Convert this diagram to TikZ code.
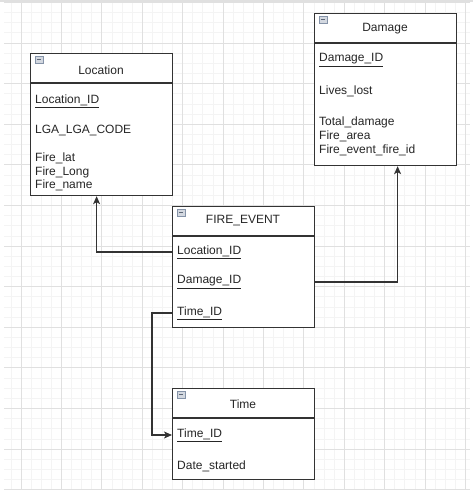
\documentclass[tikz,border=0pt]{standalone}
\usepackage{fontspec}
\setmainfont{Liberation Sans}
\usepackage{tikz}
\usetikzlibrary{arrows.meta}
\definecolor{gridminor}{HTML}{F4F4F4}
\definecolor{gridmajor}{HTML}{E0E0E0}
\definecolor{boxline}{HTML}{333333}
\definecolor{iconfill}{HTML}{D3D8E0}
\definecolor{iconline}{HTML}{8593A8}

\begin{document}
\begin{tikzpicture}[x=1pt,y=-1pt,
  table/.style={draw=boxline, line width=1.2pt, fill=white, anchor=north west,
    inner sep=0pt, minimum width=142pt},
  title/.style={font=\fontsize{12}{14}\selectfont, text=black!85},
  field/.style={anchor=west, inner xsep=5pt, inner ysep=1pt,
    font=\fontsize{12}{14}\selectfont, text=black!85},
  link/.style={draw=boxline, line width=1.1pt,
    -{Stealth[length=8pt,width=7pt,inset=2pt]}},
  icon/.style={draw=iconline, fill=iconfill, line width=0.6pt}]
\useasboundingbox (0,0) rectangle (473,494);
\fill[white] (0,0) rectangle (473,494);
% grid
\fill[gridmajor] (0,0) rectangle (473,2.5);
\foreach \i in {-1,...,44}
  \draw[gridminor, line width=0.7pt] ({21+\i*10.1},3) -- ({21+\i*10.1},490);
\foreach \j in {-3,...,44}
  \draw[gridminor, line width=0.7pt] (4,{43+\j*10.15}) -- (470,{43+\j*10.15});
\foreach \i in {0,...,11}
  \draw[gridmajor, line width=0.8pt] ({21+\i*40.4},3) -- ({21+\i*40.4},490);
\foreach \j in {-1,...,11}
  \draw[gridmajor, line width=0.8pt] (4,{43+\j*40.6}) -- (470,{43+\j*40.6});

% tables
\node[table, minimum height=142pt] (loc) at (30,53) {};
\node[table, minimum height=152pt] (dmg) at (314,13) {};
\node[table, minimum height=121pt] (fe) at (172,206) {};
\node[table, minimum height=91pt] (tm) at (172,388) {};

\foreach \b in {loc,dmg,fe,tm} {
  \draw[boxline, line width=1.2pt] ([yshift=-30pt]\b.north west) -- ([yshift=-30pt]\b.north east);
  \draw[icon] ([shift={(5pt,-3pt)}]\b.north west) rectangle ++(8,7);
  \draw[iconline!70!black, line width=0.8pt] ([shift={(6.8pt,-6.5pt)}]\b.north west) -- ++(4.4,0);
}

\node[title] (loct) at (101,70) {Location};
\node[title] (dmgt) at (385,29) {Damage};
\node[title] (fet) at (243,221) {FIRE\_EVENT};
\node[title] (tmt) at (243,404) {Time};

% Location
\node[field] (lid) at (30,101) {\underline{Location\_ID}};
\node[field] (lga) at (30,131) {LGA\_LGA\_CODE};
\node[field] (llat) at (30,158) {Fire\_lat};
\node[field] (llong) at (30,172) {Fire\_Long};
\node[field] (lname) at (30,185) {Fire\_name};
% Damage
\node[field] (did) at (314,60) {\underline{Damage\_ID}};
\node[field] (dlives) at (314,91) {Lives\_lost};
\node[field] (dtotal) at (314,122) {Total\_damage};
\node[field] (darea) at (314,136) {Fire\_area};
\node[field] (dfire) at (314,150) {Fire\_event\_fire\_id};
% FIRE_EVENT
\node[field] (floc) at (172,252) {\underline{Location\_ID}};
\node[field] (fdmg) at (172,282) {\underline{Damage\_ID}};
\node[field] (ftime) at (172,313) {\underline{Time\_ID}};
% Time
\node[field] (tid) at (172,435) {\underline{Time\_ID}};
\node[field] (tdate) at (172,466) {Date\_started};

% links
\draw[link] (floc.west) -| ([xshift=-5pt]loc.south);
\draw[link] (fe.east |- fdmg) -| ([xshift=12pt]dmg.south);
\draw[link] (ftime.west) -- ++(-20,0) |- (tid.west);

\end{tikzpicture}
\end{document}
